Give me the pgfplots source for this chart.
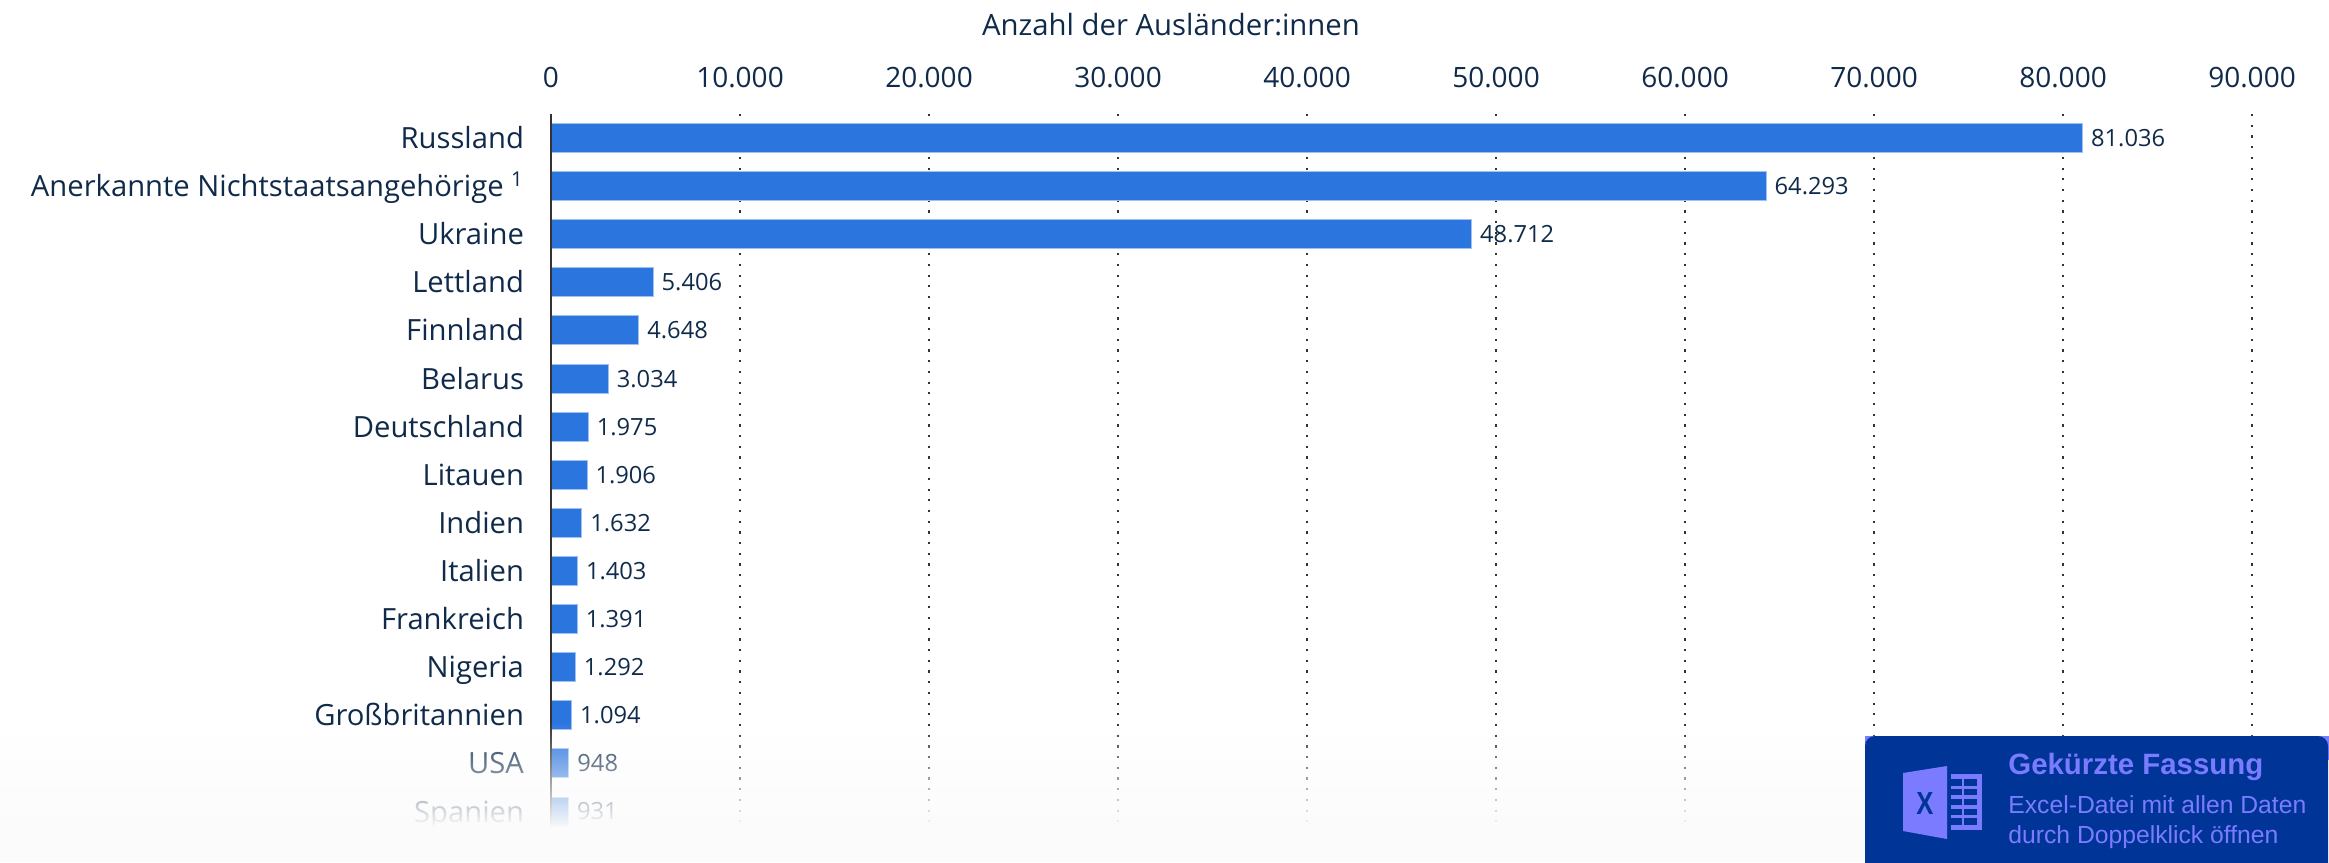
\documentclass[border=0pt]{standalone}
\usepackage{fontspec}
\setmainfont{Open Sans}
\newfontfamily\arial{Liberation Sans}
\usepackage{pgfplots}
\pgfplotsset{compat=1.18}
\usetikzlibrary{fadings}
\definecolor{barblue}{HTML}{2A75DE}
\definecolor{ink}{HTML}{0F2A4A}
\definecolor{boxblue}{HTML}{003597}
\definecolor{lav}{HTML}{7B7BFF}
\tikzfading[name=fadedown, top color=transparent!100, bottom color=transparent!0]
\begin{document}
\begin{tikzpicture}
\useasboundingbox (0,0) rectangle (1164.5pt,-431pt);
\begin{axis}[
  at={(275.5pt,-418.5pt)}, anchor=south west,
  scale only axis,
  width=850.5pt, height=361.5pt,
  xbar, bar width=14.5pt,
  xmin=0, xmax=90000,
  ymin=-0.5, ymax=14.53,
  y dir=reverse,
  clip=false,
  axis line style={draw=none},
  xticklabel pos=upper,
  xtick={0,10000,20000,30000,40000,50000,60000,70000,80000,90000},
  ytick={0,1,2,3,4,5,6,7,8,9,10,11,12,13,14},
  yticklabels={Russland,Anerkannte Nichtstaatsangehörige \textsuperscript{1},Ukraine,Lettland,Finnland,Belarus,Deutschland,Litauen,Indien,Italien,Frankreich,Nigeria,Großbritannien,USA,Spanien},
  major tick length=0pt,
  scaled x ticks=false,
  /pgf/number format/assume math mode=true,
  /pgf/number format/1000 sep={.},
  xmajorgrids,
  grid style={draw=black!80, line width=1pt, dash pattern=on 1.1pt off 4.25pt},
  tick label style={text=ink},
  xticklabel style={font=\fontsize{14}{16}\selectfont, yshift=9.5pt},
  yticklabel style={font=\fontsize{14.6}{17}\selectfont, xshift=-10pt, text height=14pt, text depth=3.5pt},
  nodes near coords,
  point meta=x,
  nodes near coords style={font=\fontsize{11.85}{14}\selectfont, text=ink, inner sep=4pt},
]
\addplot[draw=barblue!45, line width=0.5pt, fill=barblue] coordinates {
  (81036,0) (64293,1) (48712,2) (5406,3) (4648,4) (3034,5) (1975,6) (1906,7)
  (1632,8) (1403,9) (1391,10) (1292,11) (1094,12) (948,13) (931,14)
};
% y axis line sits over the bars
\draw[black!80, line width=1.1pt] (axis cs:0,-0.5) -- (axis cs:0,14.53);
\end{axis}
\begin{scope}[x=0.5pt,y=-0.5pt]
\node[font=\fontsize{14.65}{17}\selectfont, text=ink] at (1171,25) {Anzahl der Ausländer:innen};
% white fade over the last rows
\fill[white!98.5!black, path fading=fadedown, fit fading=true] (0,722) rectangle (2329,828);
\fill[white!98.5!black] (0,827.5) rectangle (2329,862);
% excel box
\fill[lav] (2300,736) rectangle (2329,760);
\fill[lav] (1865,736) rectangle (1880,750);
\fill[boxblue, rounded corners=5pt] (1865,736) rectangle (2328,900);
\fill[lav] (1903,773) -- (1947,766) -- (1947,839) -- (1903,831) -- cycle;
\node[text=boxblue, font=\arial\bfseries\fontsize{16}{16}\selectfont, inner sep=0pt, xscale=0.8] at (1925,803) {X};
\fill[lav] (1951,774) rectangle (1982,830);
\foreach \ya/\yb in {779/786,789/795,799/805,809/815,818/825} {
  \fill[boxblue] (1951,\ya) rectangle (1962,\yb);
  \fill[boxblue] (1964,\ya) rectangle (1977,\yb);
}
\node[anchor=west, inner sep=0pt, text=lav, font=\arial\bfseries\fontsize{14.7}{14}\selectfont] at (2008,767) {Gekürzte Fassung};
\node[anchor=west, inner sep=0pt, text=lav, font=\arial\fontsize{12.35}{12}\selectfont] at (2008,805) {Excel-Datei mit allen Daten};
\node[anchor=west, inner sep=0pt, text=lav, font=\arial\fontsize{12.35}{12}\selectfont] at (2008,837) {durch Doppelklick öffnen};
\end{scope}
\end{tikzpicture}
\end{document}
